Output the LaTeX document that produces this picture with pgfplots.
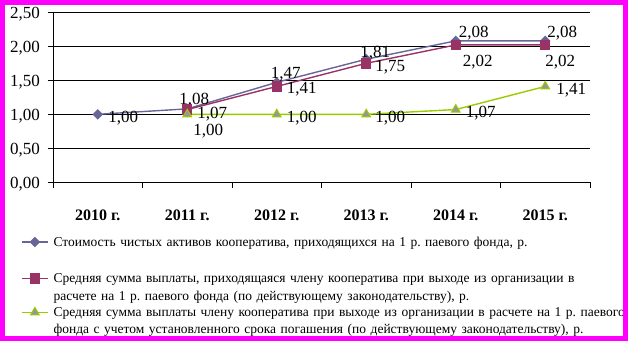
\documentclass[border=0pt]{standalone}
\usepackage{pgfplots}
\pgfplotsset{compat=1.18}
\usepackage{pgfplotstable}
\usepackage{fontspec}
\setmainfont{Liberation Serif}
\frenchspacing
\definecolor{sA}{HTML}{666699}
\definecolor{sB}{HTML}{993366}
\definecolor{sC}{HTML}{99CC00}
\definecolor{mkC}{HTML}{969696}
\definecolor{frame}{HTML}{FF00FF}

\pgfplotstableread{
x y dx dy
0 1.00 25.5 -4
1 1.08 7 9
2 1.47 9 8
3 1.81 9 6
4 2.08 18 8
5 2.08 17 8
}\tabA
\pgfplotstableread{
x y dx dy
1 1.07 25 -4.5
2 1.41 25 -2.6
3 1.75 24 -3.7
4 2.02 22 -17
5 2.02 15 -17
}\tabB
\pgfplotstableread{
x y dx dy
1 1.00 21 -17
2 1.00 25 -4
3 1.00 24 -4
4 1.07 25 -3.5
5 1.41 26 -3.6
}\tabC

\begin{document}
\begin{tikzpicture}
\useasboundingbox (0,0) rectangle (628pt,341pt);
\begin{axis}[
  at={(53pt,158.7pt)}, anchor=south west,
  scale only axis, width=537pt, height=170pt,
  xmin=-0.5, xmax=5.5, ymin=0, ymax=2.5,
  axis x line*=bottom, axis y line*=left,
  axis line style={black, line width=0.8pt},
  xtick={-0.5,0.5,...,5.5}, xticklabels={},
  extra x ticks={0,1,2,3,4,5},
  extra x tick labels={2010 г.,2011 г.,2012 г.,2013 г.,2014 г.,2015 г.},
  extra x tick style={major tick length=0pt, grid=none,
    xticklabel style={font=\bfseries\fontsize{16}{18}\selectfont, anchor=base, yshift=-37.7pt}},
  ytick={0,0.5,...,2.5},
  ymajorgrids, grid style={black, line width=0.8pt},
  tick align=outside, major tick length=5.5pt,
  tick style={black, line width=0.8pt},
  /pgf/number format/assume math mode=true,
  y tick label style={font=\fontsize{17}{19}\selectfont, yshift=-2pt, xshift=-4pt,
    /pgf/number format/.cd, fixed, fixed zerofill, precision=2, use comma, /tikz/.cd},
  every node near coord/.append style={font=\fontsize{17}{19}\selectfont, text=black,
    anchor=center, inner sep=0pt, xshift=\dx pt, yshift=\dy pt},
  nodes near coords={\pgfmathprintnumber[fixed,fixed zerofill,precision=2,use comma,assume math mode=true]{\pgfplotspointmeta}},
  visualization depends on=\thisrow{dx}\as\dx,
  visualization depends on=\thisrow{dy}\as\dy,
  legend image code/.code={\draw[mark repeat=2,mark phase=2] plot coordinates {(0pt,4pt) (13pt,4pt) (26pt,4pt)};},
  legend style={draw=none, fill=none, inner sep=0pt, at={(-0.0596,-0.31)}, anchor=north west,
    row sep=1.5pt, column sep=3.5pt, font=\fontsize{13.5}{17.5}\selectfont,
    nodes={anchor=base west, text width=600pt, align=left, inner sep=1.5pt, text depth=, text height=}},
]
\addplot[sA, line width=1.4pt, mark=square*, mark size=3pt, mark options={rotate=45, fill=sA, draw=sA}] table[x=x,y=y] {\tabA};
\addlegendentry{Стоимость чистых активов кооператива, приходящихся на 1 р. паевого фонда, р.\rule[-23pt]{0pt}{0pt}}
\addplot[sB, line width=1.4pt, mark=square*, mark size=4.5pt, mark options={fill=sB, draw=sB}] table[x=x,y=y] {\tabB};
\addlegendentry{Средняя сумма выплаты, приходящаяся члену кооператива при выходе из организации в\\расчете на 1 р. паевого фонда (по действующему законодательству), р.}
\addplot[sC, line width=1.4pt, mark=triangle*, mark size=5pt, mark options={fill=mkC, draw=sC, line width=1pt}] table[x=x,y=y] {\tabC};
\addlegendentry{Средняя сумма выплаты члену кооператива при выходе из организации в расчете на 1 р. паевого\\фонда с учетом установленного срока погашения (по действующему законодательству), р.}
\end{axis}
\draw[frame, line width=5pt] (2.5pt,2.5pt) rectangle (625.5pt,338.5pt);
\end{tikzpicture}
\end{document}
